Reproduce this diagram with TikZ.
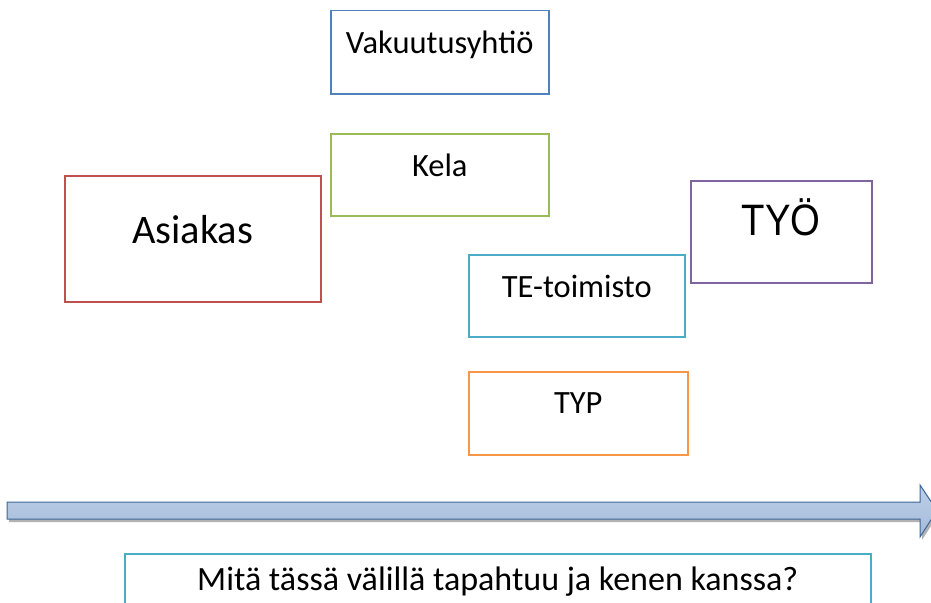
\documentclass[tikz,border=0pt]{standalone}
\usepackage{fontspec}
\setmainfont{Carlito}
\newfontfamily\arialfont[FakeStretch=0.87]{Liberation Sans}
\definecolor{vakblue}{HTML}{4F81BD}
\definecolor{kelagreen}{HTML}{9BBB59}
\definecolor{asred}{HTML}{C0504D}
\definecolor{tecyan}{HTML}{4BACC6}
\definecolor{tyopurple}{HTML}{8064A2}
\definecolor{typorange}{HTML}{F79646}
\definecolor{arrtop}{HTML}{BDD0E8}
\definecolor{arrbot}{HTML}{A3BAD9}
\definecolor{arrline}{HTML}{3F6597}
\tikzset{box/.style={draw=#1, rectangle, line width=1.5pt, inner sep=0pt, anchor=north west, font=\fontsize{32.5}{38}\selectfont}}

\begin{document}
\begin{tikzpicture}[x=1pt, y=-1pt]
\clip (0,0) rectangle (931,602);
\node (vak)[box=vakblue, minimum width=218pt, text height=43pt, text depth=40pt] at (330,10) {Vakuutusyhtiö};
\node (kela)[box=kelagreen, minimum width=218pt, text height=43pt, text depth=39pt] at (330,133) {Kela};
\node (asiakas)[box=asred, minimum width=256pt, text height=68pt, text depth=58pt, font=\fontsize{40.5}{48}\selectfont] at (64,175) {Asiakas};
\node (tyo)[box=tyopurple, minimum width=181pt, text height=55pt, text depth=47pt, font=\arialfont\fontsize{44}{52}\selectfont] at (690,180) {TYÖ};
\node (te)[box=tecyan, minimum width=216pt, text height=43pt, text depth=39pt] at (468,254) {TE-toimisto};
\node (typ)[box=typorange, minimum width=219pt, text height=42pt, text depth=41pt] at (468,371) {TYP};
\node (kysymys)[box=tecyan, minimum width=746pt, text height=37pt, text depth=50pt, font=\fontsize{34}{40}\selectfont] at (124,553) {Mitä tässä välillä tapahtuu ja kenen kanssa?};
% aikajana
\fill[black!30] (9,505) -- (922,505) -- (922,488) -- (939,513.5) -- (922,540) -- (922,522) -- (9,522) -- cycle;
\draw[arrline, line width=1pt, top color=arrtop, bottom color=arrbot] (7,502) -- (920,502) -- (920,485) -- (937,510.5) -- (920,537) -- (920,519) -- (7,519) -- cycle;
\end{tikzpicture}
\end{document}
